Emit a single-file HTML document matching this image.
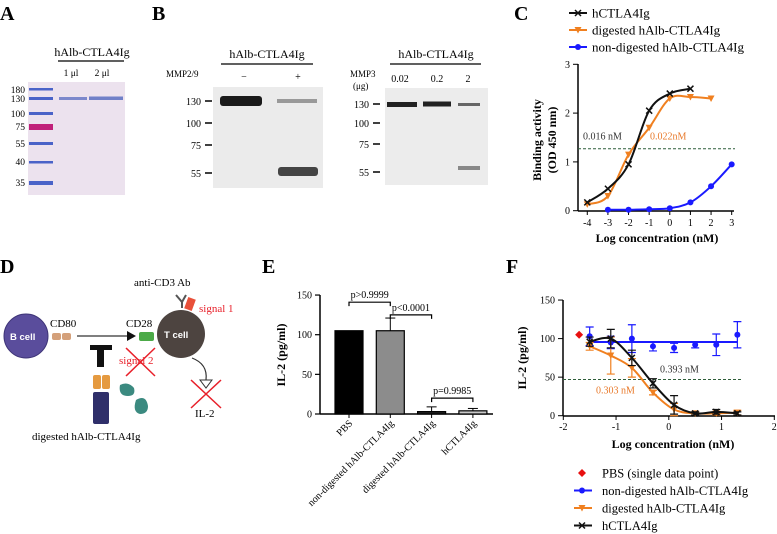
<!DOCTYPE html>
<html><head><meta charset="utf-8"><style>
body{margin:0;background:#fff}
svg{display:block;font-family:"Liberation Serif",serif}
</style></head><body>
<svg id="fig" width="777" height="534" viewBox="0 0 777 534">
<g font-weight="bold" font-size="20">
<text x="0" y="20">A</text>
<text x="152" y="20">B</text>
<text x="514" y="20">C</text>
<text x="0" y="273">D</text>
<text x="262" y="273">E</text>
<text x="506" y="273">F</text>
</g>
<!-- Panel A -->
<g font-size="9.5">
<text x="92" y="56" text-anchor="middle" font-size="12">hAlb-CTLA4Ig</text>
<line x1="58" y1="61" x2="124" y2="61" stroke="#000" stroke-width="1.2"/>
<text x="71" y="76" text-anchor="middle">1 μl</text>
<text x="102" y="76" text-anchor="middle">2 μl</text>
<rect x="28" y="82" width="97" height="113" fill="#ece2ee"/>
<g fill="#4a63c8">
<rect x="29" y="88" width="24" height="2.5"/><rect x="29" y="97" width="24" height="3"/><rect x="29" y="112" width="24" height="3"/>
<rect x="29" y="124" width="24" height="6" fill="#c0207a"/><rect x="29" y="142" width="24" height="3"/><rect x="29" y="161" width="24" height="2.5"/><rect x="29" y="181" width="24" height="4"/>
<rect x="59" y="97" width="28" height="3" fill="#7c88cc"/><rect x="89" y="96.5" width="34" height="3.5" fill="#7080c8"/>
</g>
<g text-anchor="end">
<text x="25" y="93">180</text><text x="25" y="102">130</text><text x="25" y="117">100</text><text x="25" y="130">75</text><text x="25" y="147">55</text><text x="25" y="165">40</text><text x="25" y="186">35</text>
</g>
</g>
<!-- Panel B1 -->
<g font-size="10">
<text x="267" y="58" text-anchor="middle" font-size="12">hAlb-CTLA4Ig</text>
<line x1="221" y1="64" x2="313" y2="64" stroke="#000" stroke-width="1.2"/>
<text x="166" y="77" font-size="9">MMP2/9</text>
<text x="244" y="80" text-anchor="middle">−</text><text x="298" y="80" text-anchor="middle">+</text>
<rect x="213" y="87" width="110" height="101" fill="#ebebeb"/>
<rect x="220" y="96" width="42" height="10" rx="3" fill="#1a1a1a"/>
<rect x="277" y="99" width="40" height="4" fill="#999"/>
<rect x="278" y="167" width="40" height="9" rx="3" fill="#444"/>
<g stroke="#000" stroke-width="1.5"><line x1="205" y1="101" x2="212" y2="101"/><line x1="205" y1="123" x2="212" y2="123"/><line x1="205" y1="145" x2="212" y2="145"/><line x1="205" y1="173" x2="212" y2="173"/></g>
<g text-anchor="end"><text x="201" y="105">130</text><text x="201" y="127">100</text><text x="201" y="149">75</text><text x="201" y="177">55</text></g>
</g>
<!-- Panel B2 -->
<g font-size="10">
<text x="436" y="58" text-anchor="middle" font-size="12">hAlb-CTLA4Ig</text>
<line x1="390" y1="64" x2="481" y2="64" stroke="#000" stroke-width="1.2"/>
<text x="350" y="77" font-size="9">MMP3</text><text x="353" y="89" font-size="9">(μg)</text>
<text x="400" y="82" text-anchor="middle">0.02</text><text x="437" y="82" text-anchor="middle">0.2</text><text x="468" y="82" text-anchor="middle">2</text>
<rect x="385" y="88" width="103" height="97" fill="#ececec"/>
<rect x="387" y="102" width="30" height="5" fill="#222"/><rect x="423" y="101.5" width="28" height="5" fill="#222"/><rect x="458" y="103" width="22" height="3" fill="#666"/>
<rect x="458" y="166" width="22" height="4" fill="#888"/>
<g stroke="#000" stroke-width="1.5"><line x1="373" y1="104" x2="380" y2="104"/><line x1="373" y1="123" x2="380" y2="123"/><line x1="373" y1="144" x2="380" y2="144"/><line x1="373" y1="172" x2="380" y2="172"/></g>
<g text-anchor="end"><text x="369" y="108">130</text><text x="369" y="127">100</text><text x="369" y="148">75</text><text x="369" y="176">55</text></g>
</g>
<!-- Panel D -->
<g>
<circle cx="26" cy="336" r="22" fill="#5a4d9c" stroke="#3f3578" stroke-width="1"/>
<text x="10" y="340" fill="#fff" font-family="Liberation Sans" font-size="9.5" font-weight="bold">B cell</text>
<rect x="52" y="333" width="9" height="7" rx="2" fill="#d4a07a"/><rect x="62" y="333" width="9" height="7" rx="2" fill="#d4a07a"/>
<text x="50" y="327" font-size="11">CD80</text>
<line x1="77" y1="336" x2="128" y2="336" stroke="#333" stroke-width="1.2"/><polygon points="127,331 136,336 127,341" fill="#111"/>
<text x="126" y="327" font-size="11">CD28</text>
<rect x="139" y="332" width="15" height="9" rx="2" fill="#4caa48"/>
<circle cx="181" cy="334" r="24" fill="#4d4440"/>
<text x="164" y="338" fill="#fff" font-family="Liberation Sans" font-size="9.5" font-weight="bold">T cell</text>
<text x="134" y="286" font-size="11">anti-CD3 Ab</text>
<path d="M176,295 L182,302 L186,295 M182,302 L182,308" stroke="#555" stroke-width="2" fill="none"/>
<rect x="186" y="298" width="8" height="12" fill="#e8503a" transform="rotate(20 190 304)"/>
<text x="199" y="312" fill="#e8202a" font-size="11">signal 1</text>
<rect x="97" y="345" width="7" height="22" fill="#111"/><rect x="90" y="345" width="22" height="5" fill="#111"/>
<text x="119" y="364" fill="#e8202a" font-size="11">signal 2</text>
<path d="M126,348 L155,376 M155,348 L126,376" stroke="#e8202a" stroke-width="1.5"/>
<rect x="93" y="375" width="8" height="14" rx="2" fill="#e59a40"/><rect x="102" y="375" width="8" height="14" rx="2" fill="#e59a40"/>
<rect x="93" y="392" width="16" height="32" rx="2" fill="#2f2f6a"/>
<path d="M120,385 q8,-4 14,3 q2,8 -6,8 q-10,0 -8,-11z" fill="#3b8a80"/>
<path d="M136,400 q10,-6 12,6 q0,8 -8,8 q-8,-2 -4,-14z" fill="#3b8a80"/>
<path d="M192,358 q16,6 14,22" stroke="#333" fill="none" stroke-width="1.2"/><polygon points="200,380 212,380 206,388" fill="#fff" stroke="#333"/>
<path d="M191,380 L221,408 M221,380 L191,408" stroke="#e8202a" stroke-width="1.5"/>
<text x="195" y="417" font-size="11">IL-2</text>
<text x="32" y="440" font-size="11">digested hAlb-CTLA4Ig</text>
</g>
<g id="chartE" font-size="10"></g>
<g id="chartC" font-size="10"></g>
<g id="chartF" font-size="10"></g>
</svg>
<script>
const NS="http://www.w3.org/2000/svg";
function mk(parent,tag,attrs,text){const e=document.createElementNS(NS,tag);for(const k in attrs)e.setAttribute(k,attrs[k]);if(text!==undefined)e.textContent=text;parent.appendChild(e);return e;}

// ---------- Panel E data ----------
const eCategories=["PBS","non-digested hAlb-CTLA4Ig","digested hAlb-CTLA4Ig","hCTLA4Ig"];
const eValues=[105,105,3,4];
const eErrors=[0,16,6,3];
const eTicks=[0,50,100,150];
const eBrackets=[["p>0.9999",0,1,141],["p<0.0001",1,2,125],["p=0.9985",2,3,20]];
const eFills=["#000","#8c8c8c","#222","#c8c8c8"];
(function(){
 const g=document.getElementById('chartE');
 const y=v=>414-v*0.793, x=i=>349+i*41.3;
 mk(g,'line',{x1:320,y1:295,x2:320,y2:414,stroke:'#000','stroke-width':1.5});
 mk(g,'line',{x1:320,y1:414,x2:493,y2:414,stroke:'#000','stroke-width':1.5});
 eTicks.forEach(t=>{mk(g,'line',{x1:315,y1:y(t),x2:320,y2:y(t),stroke:'#000','stroke-width':1.2});
  const tx=mk(g,'text',{x:312,y:y(t)+3.5,'text-anchor':'end'},t);
  
  });
 const yl=mk(g,'text',{x:0,y:0,transform:'translate(285,355) rotate(-90)','text-anchor':'middle','font-weight':'bold','font-size':12},'IL-2 (pg/ml)');
 
 
 eValues.forEach((v,i)=>{
  const b=mk(g,'rect',{x:x(i)-14,y:y(v),width:28,height:414-y(v),fill:eFills[i],stroke:'#000','stroke-width':1.2});
  
  
  if(eErrors[i]>0){mk(g,'line',{x1:x(i),y1:y(v),x2:x(i),y2:y(v+eErrors[i]),stroke:'#000'});
   mk(g,'line',{x1:x(i)-5,y1:y(v+eErrors[i]),x2:x(i)+5,y2:y(v+eErrors[i]),stroke:'#000'});}
  mk(g,'line',{x1:x(i),y1:414,x2:x(i),y2:418,stroke:'#000'});
  const l=mk(g,'text',{x:0,y:0,transform:`translate(${x(i)+4},${424}) rotate(-45)`,'text-anchor':'end'},eCategories[i]);
  
  
 });
 eBrackets.forEach(b=>{const yy=y(b[3]);
  mk(g,'path',{d:`M${x(b[1])},${yy+4} V${yy} H${x(b[2])} V${yy+4}`,stroke:'#000',fill:'none','stroke-width':1.2});
  const t=mk(g,'text',{x:(x(b[1])+x(b[2]))/2,y:yy-4,'text-anchor':'middle'},b[0]);
  
  });
})();

function smooth(pts){let d=`M${pts[0][0]},${pts[0][1]}`;
 for(let i=0;i<pts.length-1;i++){const p0=pts[i-1]||pts[i],p1=pts[i],p2=pts[i+1],p3=pts[i+2]||p2;
  d+=` C${p1[0]+(p2[0]-p0[0])/6},${p1[1]+(p2[1]-p0[1])/6} ${p2[0]-(p3[0]-p1[0])/6},${p2[1]-(p3[1]-p1[1])/6} ${p2[0]},${p2[1]}`;}
 return d;}
function marker(g,type,cx,cy,col){
 if(type==='dot')return mk(g,'circle',{cx,cy,r:3,fill:col});
 if(type==='tri')return mk(g,'polygon',{points:`${cx-3.5},${cy-3} ${cx+3.5},${cy-3} ${cx},${cy+3.5}`,fill:col});
 if(type==='x')return mk(g,'path',{d:`M${cx-3},${cy-3}L${cx+3},${cy+3}M${cx+3},${cy-3}L${cx-3},${cy+3}`,stroke:col,'stroke-width':1.5});
 if(type==='dia')return mk(g,'polygon',{points:`${cx},${cy-4} ${cx+4},${cy} ${cx},${cy+4} ${cx-4},${cy}`,fill:col});}

// ---------- Panel C data ----------
const cXTicks=[-4,-3,-2,-1,0,1,2,3];
const cYTicks=[0,1,2,3];
const cHx=[-4,-3,-2,-1,0,1];
const cHy=[0.17,0.45,0.95,2.05,2.4,2.5];
const cDx=[-4,-3,-2,-1,0,1,2];
const cDy=[0.13,0.3,1.15,1.7,2.3,2.33,2.3];
const cNx=[-3,-2,-1,0,1,2,3];
const cNy=[0.02,0.02,0.03,0.05,0.17,0.5,0.95];
(function(){
 const g=document.getElementById('chartC');
 const x=v=>669.8+v*20.63, y=v=>210.7-v*48.8;
 mk(g,'line',{x1:578,y1:64,x2:578,y2:211,stroke:'#000','stroke-width':1.5});
 mk(g,'line',{x1:578,y1:211,x2:734,y2:211,stroke:'#000','stroke-width':1.5});
 cYTicks.forEach(t=>{mk(g,'line',{x1:573,y1:y(t),x2:578,y2:y(t),stroke:'#000'});
  const tx=mk(g,'text',{x:570,y:y(t)+3.5,'text-anchor':'end'},t);
  
  });
 cXTicks.forEach(t=>{mk(g,'line',{x1:x(t),y1:211,x2:x(t),y2:215,stroke:'#000'});
  const tx=mk(g,'text',{x:x(t),y:226,'text-anchor':'middle'},t);
  
  });
 const xl=mk(g,'text',{x:657,y:242,'text-anchor':'middle','font-weight':'bold','font-size':12},'Log concentration (nM)');
 
 
 const yl=mk(g,'text',{x:0,y:0,transform:'translate(541,140) rotate(-90)','text-anchor':'middle','font-weight':'bold','font-size':12},'Binding activity');
 
 
 mk(g,'text',{x:0,y:0,transform:'translate(556,140) rotate(-90)','text-anchor':'middle','font-weight':'bold','font-size':12},'(OD 450 nm)');
 mk(g,'line',{x1:578,y1:y(1.27),x2:735,y2:y(1.27),stroke:'#2f5f3a','stroke-dasharray':'3,2'});
 mk(g,'text',{x:583,y:y(1.27)-9,fill:'#333'},'0.016 nM');
 mk(g,'text',{x:650,y:y(1.27)-9,fill:'#e8792a'},'0.022nM');
 [[cNx,cNy,'#1a1aff','dot','non-digested'],[cDx,cDy,'#f08020','tri','digested'],[cHx,cHy,'#111','x','hctla4ig']].forEach(s=>{
  const p=mk(g,'path',{d:smooth(s[0].map((v,i)=>[x(v),y(s[1][i])])),stroke:s[2],fill:'none','stroke-width':2});
  
  
  s[0].forEach((v,i)=>{const m=marker(g,s[3],x(v),y(s[1][i]),s[2]);
   
   });
 });
 const leg=[['hCTLA4Ig','#111','x'],['digested hAlb-CTLA4Ig','#f08020','tri'],['non-digested hAlb-CTLA4Ig','#1a1aff','dot']];
 leg.forEach((l,i)=>{const yy=13+i*17;
  mk(g,'line',{x1:569,y1:yy,x2:587,y2:yy,stroke:l[1],'stroke-width':2});marker(g,l[2],578,yy,l[1]);
  const t=mk(g,'text',{x:592,y:yy+4.5,'font-size':13},l[0]);
  
  });
})();

// ---------- Panel F data ----------
const fXTicks=[-2,-1,0,1,2];
const fYTicks=[0,50,100,150];
const fX=[-1.5,-1.1,-0.7,-0.3,0.1,0.5,0.9,1.3];
const fNon=[103,95,100,90,88,92,92,105];
const fNonErr=[12,8,18,6,6,4,14,17];
const fDig=[90,78,62,30,8,3,3,4];
const fDigErr=[5,24,12,3,8,2,2,3];
const fH=[96,100,75,42,14,3,5,3];
const fHErr=[6,12,10,6,12,2,3,2];
const fPbsX=-1.7, fPbsY=105;
(function(){
 const g=document.getElementById('chartF');
 const x=v=>668.8+v*52.75, y=v=>415.7-v*0.771;
 mk(g,'line',{x1:563,y1:300,x2:563,y2:416,stroke:'#000','stroke-width':1.5});
 mk(g,'line',{x1:563,y1:416,x2:775,y2:416,stroke:'#000','stroke-width':1.5});
 fYTicks.forEach(t=>{mk(g,'line',{x1:558,y1:y(t),x2:563,y2:y(t),stroke:'#000'});
  const tx=mk(g,'text',{x:555,y:y(t)+3.5,'text-anchor':'end'},t);
  
  });
 fXTicks.forEach(t=>{mk(g,'line',{x1:x(t),y1:416,x2:x(t),y2:420,stroke:'#000'});
  const tx=mk(g,'text',{x:x(t),y:430,'text-anchor':'middle'},t);
  
  });
 const xl=mk(g,'text',{x:673,y:448,'text-anchor':'middle','font-weight':'bold','font-size':12},'Log concentration (nM)');
 
 
 const yl=mk(g,'text',{x:0,y:0,transform:'translate(526,358) rotate(-90)','text-anchor':'middle','font-weight':'bold','font-size':12},'IL-2 (pg/ml)');
 
 
 mk(g,'line',{x1:563,y1:y(47),x2:741,y2:y(47),stroke:'#2f5f3a','stroke-dasharray':'3,2'});
 mk(g,'text',{x:660,y:y(47)-7,fill:'#333'},'0.393 nM');
 mk(g,'text',{x:596,y:y(47)+14,fill:'#e8792a'},'0.303 nM');
 const series=[[fNon,fNonErr,'#1a1aff','dot','non-digested'],[fDig,fDigErr,'#f08020','tri','digested'],[fH,fHErr,'#111','x','hctla4ig']];
 series.forEach(s=>{
  let d;
  if(s[4]==='non-digested'){const m=s[0].reduce((a,b)=>a+b,0)/s[0].length;d=`M${x(fX[0])},${y(m)} L${x(fX[fX.length-1])},${y(m)}`;}
  else d=smooth(fX.map((v,i)=>[x(v),y(s[0][i])]));
  const p=mk(g,'path',{d,stroke:s[2],fill:'none','stroke-width':2});
  
  
  fX.forEach((v,i)=>{const cy=y(s[0][i]),e=s[1][i];
   mk(g,'path',{d:`M${x(v)},${y(s[0][i]+e)}V${y(s[0][i]-e)}M${x(v)-4},${y(s[0][i]+e)}h8M${x(v)-4},${y(s[0][i]-e)}h8`,stroke:s[2],'stroke-width':1.2,fill:'none'});
   const m=marker(g,s[3],x(v),cy,s[2]);
   
   });
 });
 const pb=marker(g,'dia',x(fPbsX),y(fPbsY),'#e81010');
 
 
 const leg=[['PBS (single data point)','#e81010','dia',false],['non-digested hAlb-CTLA4Ig','#1a1aff','dot',true],['digested hAlb-CTLA4Ig','#f08020','tri',true],['hCTLA4Ig','#111','x',true]];
 leg.forEach((l,i)=>{const yy=473+i*17.5;
  if(l[3])mk(g,'line',{x1:574,y1:yy,x2:592,y2:yy,stroke:l[1],'stroke-width':2});marker(g,l[2],582,yy,l[1]);
  const t=mk(g,'text',{x:602,y:yy+4.5,'font-size':12.5},l[0]);
  
  });
})();
</script>
</body></html>
